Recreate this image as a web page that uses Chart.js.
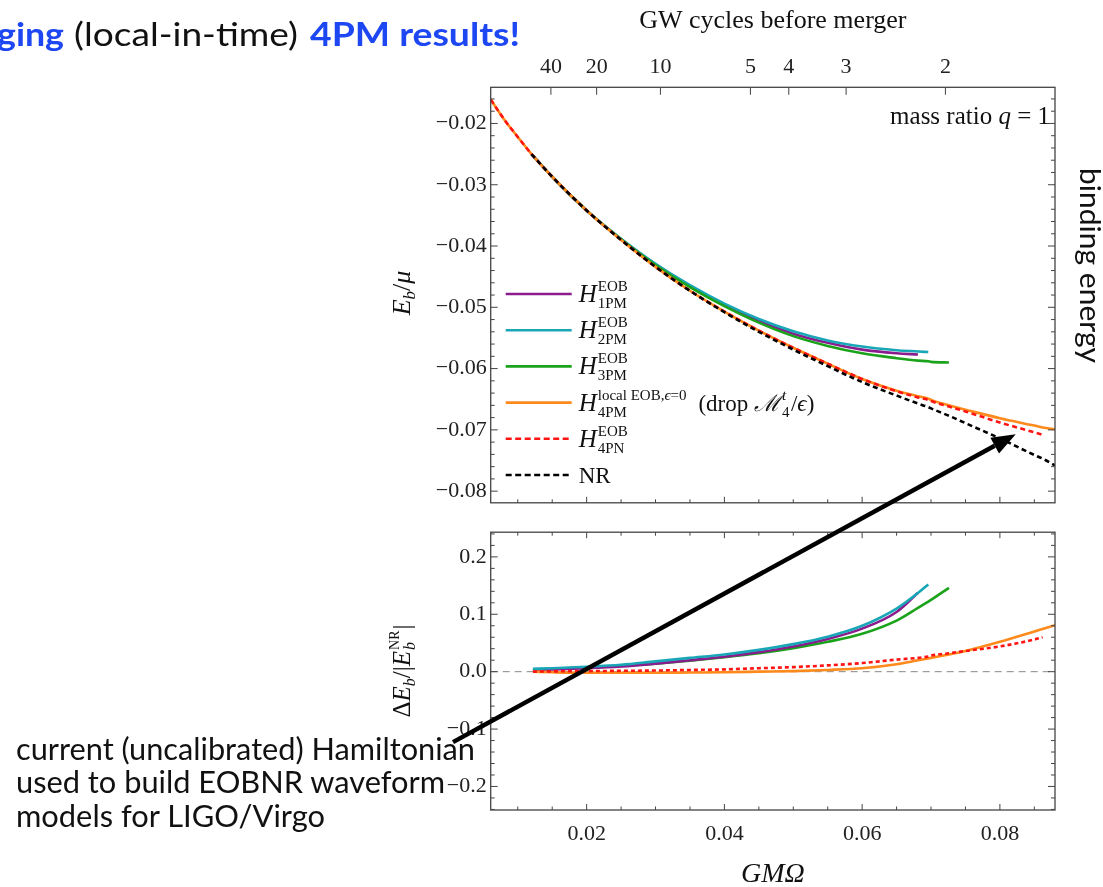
<!DOCTYPE html>
<html>
<head>
<meta charset="utf-8">
<script src="https://cdn.jsdelivr.net/npm/chart.js@4.4.0/dist/chart.umd.min.js"></script>
<style>
  html, body { margin: 0; padding: 0; background: #fff; }
  body { width: 1103px; height: 887px; position: relative; overflow: hidden; }
  #topBox { position: absolute; left: 0; top: 0; width: 1103px; height: 520px; }
  #botBox { position: absolute; left: 0; top: 515px; width: 1103px; height: 372px; }
  #notes { position: absolute; left: 0; top: 0; pointer-events: none; }
</style>
</head>
<body>
<div id="topBox"><canvas id="topChart"></canvas></div>
<div id="botBox"><canvas id="botChart"></canvas></div>
<svg id="notes" width="1103" height="887">
  <text x="-3" y="46" font-family="Lato" font-weight="700" font-size="32" fill="#1d47f2" textLength="67" lengthAdjust="spacingAndGlyphs">ging</text>
  <text x="74" y="46" font-family="Lato" font-size="32" fill="#111" textLength="224" lengthAdjust="spacingAndGlyphs">(local-in-time)</text>
  <text x="310" y="46" font-family="Lato" font-weight="700" font-size="32" fill="#1d47f2" textLength="210" lengthAdjust="spacingAndGlyphs">4PM results!</text>
  <text x="16" y="760" font-family="Lato" font-size="30" fill="#111" textLength="459" lengthAdjust="spacingAndGlyphs">current (uncalibrated) Hamiltonian</text>
  <text x="16" y="793" font-family="Lato" font-size="30" fill="#111" textLength="429" lengthAdjust="spacingAndGlyphs">used to build EOBNR waveform</text>
  <text x="16" y="827" font-family="Lato" font-size="30" fill="#111" textLength="309" lengthAdjust="spacingAndGlyphs">models for LIGO/Virgo</text>
  <text transform="translate(1080,168) rotate(90)" font-family="Lato" font-size="29" fill="#111" textLength="195" lengthAdjust="spacingAndGlyphs">binding energy</text>
  <line id="arrowLine" stroke="#000" stroke-width="4.5" />
  <polygon id="arrowHead" fill="#000" />
</svg>
<script>
// GMΩ sample points, top panel (binding energy E_b/μ)
const topX = [0.00607, 0.008, 0.01, 0.012, 0.015, 0.02, 0.025, 0.03, 0.035, 0.04, 0.045, 0.05,
  0.055, 0.06, 0.065, 0.0681, 0.0696, 0.07, 0.0726, 0.075, 0.08, 0.085, 0.0862, 0.088];
const topPM1 = [null, null, null, -0.0250, -0.0287, -0.0342, -0.0389, -0.0430, -0.0465, -0.0496, -0.0522, -0.0543,
  -0.0558, -0.0569, -0.0575, -0.0577, null, null, null, null, null, null, null, null];
const topPM2 = [null, null, null, -0.0250, -0.0287, -0.0342, -0.0388, -0.0429, -0.0464, -0.0494, -0.0519, -0.0539,
  -0.0554, -0.0564, -0.0570, -0.0572, -0.0573, null, null, null, null, null, null, null];
const topPM3 = [null, null, null, -0.0250, -0.0287, -0.0342, -0.0389, -0.0431, -0.0467, -0.0498, -0.0525, -0.0547,
  -0.0563, -0.0575, -0.0583, -0.0587, -0.0588, -0.0589, -0.0590, null, null, null, null, null];
const topPM4 = [-0.0161, -0.0193, -0.0222, -0.0250, -0.0287, -0.0342, -0.0390, -0.0434, -0.0473, -0.0507, -0.0538, -0.0566,
  -0.0592, -0.0617, -0.0636, -0.0645, -0.0649, -0.0651, -0.0660, -0.0667, -0.0681, -0.0693, -0.0696, -0.0699];
const topPN4 = [-0.0161, -0.0193, -0.0222, -0.0250, -0.0287, -0.0342, -0.0390, -0.0434, -0.0473, -0.0507, -0.0538, -0.0566,
  -0.0592, -0.0617, -0.0637, -0.0647, -0.0651, -0.0653, -0.0662, -0.0670, -0.0688, -0.0704, -0.0708, null];
const topNR = [null, null, null, -0.0250, -0.0287, -0.0342, -0.0390, -0.0434, -0.0473, -0.0508, -0.0540, -0.0569,
  -0.0596, -0.0622, -0.0644, -0.0657, -0.0663, -0.0665, -0.0677, -0.0689, -0.0714, -0.0741, -0.0747, -0.0758];

// bottom panel (relative difference to NR)
const botX = [0.0122, 0.015, 0.02, 0.025, 0.03, 0.035, 0.04, 0.045, 0.05, 0.055, 0.06, 0.065,
  0.0681, 0.0696, 0.07, 0.0726, 0.075, 0.08, 0.085, 0.0862, 0.088];
const botPM1 = [0.003, 0.004, 0.006, 0.009, 0.014, 0.020, 0.026, 0.034, 0.044, 0.057, 0.075, 0.104,
  0.1375, null, null, null, null, null, null, null, null];
const botPM2 = [0.005, 0.006, 0.0085, 0.012, 0.018, 0.024, 0.030, 0.038, 0.048, 0.061, 0.080, 0.110,
  0.137, 0.152, null, null, null, null, null, null, null];
const botPM3 = [0.004, 0.005, 0.007, 0.010, 0.014, 0.019, 0.025, 0.032, 0.041, 0.052, 0.066, 0.089,
  0.111, 0.122, 0.125, 0.146, null, null, null, null, null];
const botPM4 = [0.0, -0.001, -0.002, -0.002, -0.002, -0.0015, -0.001, 0.0, 0.001, 0.003, 0.006, 0.013,
  0.0198, 0.0231, 0.024, 0.030, 0.036, 0.052, 0.070, 0.0744, 0.081];
const botPN4 = [0.0, 0.0005, 0.001, 0.0015, 0.002, 0.003, 0.004, 0.006, 0.008, 0.011, 0.015, 0.021,
  0.024, 0.0265, 0.028, 0.032, 0.036, 0.044, 0.056, 0.060, null];

// axes
const xMin = 0.00607, xMax = 0.088;
const xTicks = [0.02, 0.04, 0.06, 0.08];
const cycleLabels = [40, 20, 10, 5, 4, 3, 2];
const cyclePos = [0.01481, 0.02145, 0.03071, 0.04378, 0.04935, 0.05767, 0.07209];
const topYTicks = [-0.08, -0.07, -0.06, -0.05, -0.04, -0.03, -0.02];
const botYTicks = [-0.2, -0.1, 0.0, 0.1, 0.2];

// arrow annotation, in data coords (tail: bottom panel, head: top panel)
const arrowFrom = [0.0006, -0.1227];
const arrowTo = [0.0823, -0.0707];

const BOT_TOP = 515;
const serif = '"Liberation Serif", "DejaVu Serif", serif';
const minus = s => s.replace('-', '\u2212');

const colors = {
  pm1: '#8a1c8e', pm2: '#19a7b8', pm3: '#1aa31a', pm4: '#ff8a1c', pn4: '#ff1414', nr: '#000'
};

function pts(xs, ys) {
  return xs.map((x, i) => ({ x: x, y: ys[i] })).filter(p => p.y !== null);
}

function line(label, xs, ys, color, dash, order) {
  return {
    label: label, data: pts(xs, ys), borderColor: color, borderWidth: 2.6,
    borderDash: dash || [], pointRadius: 0, cubicInterpolationMode: 'monotone',
    fill: false, order: order
  };
}

function mathText(ctx, x, y, parts, measureOnly) {
  for (const [t, size, it, dy] of parts) {
    ctx.font = (it ? 'italic ' : '') + size + 'px ' + serif;
    if (!measureOnly) ctx.fillText(t, x, y + (dy || 0));
    x += ctx.measureText(t).width;
  }
  return x;
}

// H with stacked superscript / subscript
function hLabel(ctx, x, y, sup, sub) {
  x = mathText(ctx, x, y, [['H', 25, true]]) + 1;
  const x1 = mathText(ctx, x, y - 11, sup);
  const x2 = mathText(ctx, x, y + 6, [[sub, 15, false]]);
  return Math.max(x1, x2);
}

// frame + inward ticks, Mathematica style
function frameTicks(opts) {
  return {
    id: 'frameTicks',
    afterDatasetsDraw(chart) {
      const { ctx, chartArea: a, scales } = chart;
      ctx.save();
      ctx.strokeStyle = '#444';
      ctx.lineWidth = 1.3;
      ctx.strokeRect(a.left, a.top, a.right - a.left, a.bottom - a.top);
      ctx.lineWidth = 1;
      ctx.beginPath();
      opts.xs.forEach(([v, len]) => {
        const px = scales.x.getPixelForValue(v);
        if (opts.bottomX) { ctx.moveTo(px, a.bottom); ctx.lineTo(px, a.bottom - len); }
        if (opts.topX) { ctx.moveTo(px, a.top); ctx.lineTo(px, a.top + len); }
      });
      (opts.topOnly || []).forEach(([v, len]) => {
        const px = scales.x.getPixelForValue(v);
        ctx.moveTo(px, a.top); ctx.lineTo(px, a.top + len);
      });
      opts.ys.forEach(([v, len]) => {
        const py = scales.y.getPixelForValue(v);
        ctx.moveTo(a.left, py); ctx.lineTo(a.left + len, py);
        ctx.moveTo(a.right, py); ctx.lineTo(a.right - len, py);
      });
      ctx.stroke();
      ctx.restore();
    }
  };
}

const xFrame = [];
for (let k = 2; k <= 17; k++) xFrame.push([k * 0.005, k % 4 === 0 ? 6 : 3.5]);
const topYFrame = [];
for (let k = 40; k >= 8; k--) topYFrame.push([-k * 0.002, k % 5 === 0 ? 7 : 4]);
const botYFrame = [];
for (let k = -12; k <= 12; k++) botYFrame.push([k * 0.02, k % 5 === 0 ? 7 : 4]);

const topDecor = {
  id: 'topDecor',
  afterDraw(chart) {
    const { ctx, chartArea: a } = chart;
    ctx.save();
    ctx.fillStyle = '#111';
    ctx.textBaseline = 'alphabetic';

    // legend
    const ds = chart.data.datasets;
    const sups = [
      [['EOB', 15, false]], [['EOB', 15, false]], [['EOB', 15, false]],
      [['local EOB,', 15, false], ['\u03f5', 15, true], ['=0', 15, false]],
      [['EOB', 15, false]]
    ];
    const subs = ['1PM', '2PM', '3PM', '4PM', '4PN'];
    ds.forEach((d, i) => {
      const cy = 294 + i * 36.2;
      ctx.save();
      ctx.strokeStyle = d.borderColor;
      ctx.lineWidth = 2.6;
      ctx.setLineDash(d.borderDash.length ? [6, 3.5] : []);
      ctx.beginPath();
      ctx.moveTo(a.left + 15, cy); ctx.lineTo(a.left + 81, cy);
      ctx.stroke();
      ctx.restore();
      const tx = a.left + 88, by = cy + 8;
      if (i < 5) {
        const end = hLabel(ctx, tx, by, sups[i], subs[i]);
        if (i === 3) {
          const x0 = end + 12;
          let x = mathText(ctx, x0, by, [['(drop ', 23, false], ['\u2133', 23, true]]);
          ctx.font = 'italic 15px ' + serif;
          ctx.fillText('t', x + 1, by - 11);
          ctx.font = '15px ' + serif;
          ctx.fillText('4', x + 1, by + 6);
          x += 10;
          mathText(ctx, x, by, [['/', 23, false], ['\u03f5', 23, true], [')', 23, false]]);
        }
      } else {
        mathText(ctx, tx, by, [['NR', 23, false]]);
      }
    });

    // mass ratio note
    const note = [['mass ratio ', 25, false], ['q', 25, true], [' = 1', 25, false]];
    const nw = mathText(ctx, 0, 0, note, true);
    mathText(ctx, a.right - 5 - nw, 124, note);

    // top axis title
    ctx.font = '26px ' + serif;
    ctx.textAlign = 'center';
    ctx.fillText('GW cycles before merger', (a.left + a.right) / 2, 28);
    ctx.textAlign = 'left';

    // y title E_b/mu
    const yt = [['E', 26, true], ['b', 17, true, 5], ['/', 26, false], ['\u03bc', 26, true]];
    const yw = mathText(ctx, 0, 0, yt, true);
    ctx.translate(410, 293);
    ctx.rotate(-Math.PI / 2);
    mathText(ctx, -yw / 2, 0, yt);
    ctx.restore();
  }
};

const botDecor = {
  id: 'botDecor',
  afterDraw(chart) {
    const { ctx, chartArea: a } = chart;
    ctx.save();
    ctx.fillStyle = '#111';
    // x title
    ctx.font = 'italic 28px ' + serif;
    ctx.textAlign = 'center';
    ctx.fillText('GM\u03a9', (a.left + a.right) / 2, 367);
    ctx.textAlign = 'left';
    // y title  ΔE_b / |E_b^NR|
    const p1 = [['\u0394', 25, false], ['E', 25, true], ['b', 16, true, 5], ['/|', 25, false], ['E', 25, true]];
    const w1 = mathText(ctx, 0, 0, p1, true);
    ctx.font = '14px ' + serif;
    const wNR = ctx.measureText('NR').width;
    const w3 = mathText(ctx, 0, 0, [['|', 25, false]], true);
    const total = w1 + 2 + wNR + w3;
    ctx.translate(410, 156);
    ctx.rotate(-Math.PI / 2);
    let x = mathText(ctx, -total / 2, 0, p1);
    ctx.font = 'italic 16px ' + serif;
    ctx.fillText('b', x + 1, 5);
    ctx.font = '14px ' + serif;
    ctx.fillText('NR', x + 1, -11);
    x += 2 + wNR;
    mathText(ctx, x, 0, [['|', 25, false]]);
    ctx.restore();
  }
};

const tickFont = { family: serif, size: 22 };

const topChart = new Chart(document.getElementById('topChart'), {
  type: 'line',
  data: {
    datasets: [
      line('1PM', topX, topPM1, colors.pm1, null, 5),
      line('2PM', topX, topPM2, colors.pm2, null, 4),
      line('3PM', topX, topPM3, colors.pm3, null, 3),
      line('4PM local', topX, topPM4, colors.pm4, null, 2),
      line('4PN', topX, topPN4, colors.pn4, [5, 3.5], 1),
      line('NR', topX, topNR, colors.nr, [5, 3.5], 0)
    ]
  },
  options: {
    responsive: true,
    maintainAspectRatio: false,
    animation: false,
    layout: { padding: { left: 420, right: 48, top: 0, bottom: 10 } },
    plugins: { legend: { display: false }, tooltip: { enabled: false } },
    scales: {
      x: {
        type: 'linear', position: 'bottom', min: xMin, max: xMax,
        ticks: { display: false }, grid: { display: false }, border: { display: false },
        afterFit: s => { s.height = 0; }
      },
      x2: {
        type: 'linear', position: 'top', min: xMin, max: xMax,
        afterBuildTicks: s => { s.ticks = cyclePos.map(v => ({ value: v })); },
        ticks: { font: tickFont, color: '#222', padding: 7, maxRotation: 0, autoSkip: false,
          callback: (v, i) => cycleLabels[i] },
        grid: { display: false, drawTicks: false }, border: { display: false },
        afterFit: s => { s.height = 87.3; }
      },
      y: {
        type: 'linear', min: -0.0819, max: -0.0141,
        afterBuildTicks: s => { s.ticks = topYTicks.map(v => ({ value: v })); },
        ticks: { font: tickFont, color: '#222', padding: 4, callback: v => minus(v.toFixed(2)) },
        grid: { display: false, drawTicks: false }, border: { display: false },
        afterFit: s => { s.width = 70.7; }
      }
    }
  },
  plugins: [frameTicks({ xs: xFrame, bottomX: true, topX: false,
    topOnly: cyclePos.map(v => [v, 7.5]), ys: topYFrame }), topDecor]
});

const botChart = new Chart(document.getElementById('botChart'), {
  type: 'line',
  data: {
    datasets: [
      {
        label: 'zero', data: [{ x: xMin, y: 0 }, { x: xMax, y: 0 }], borderColor: '#888',
        borderWidth: 1, borderDash: [7, 5], pointRadius: 0, order: 9
      },
      line('1PM', botX, botPM1, colors.pm1, null, 5),
      line('2PM', botX, botPM2, colors.pm2, null, 4),
      line('3PM', botX, botPM3, colors.pm3, null, 6),
      line('4PM local', botX, botPM4, colors.pm4, null, 2),
      line('4PN', botX, botPN4, colors.pn4, [4, 3], 1)
    ]
  },
  options: {
    responsive: true,
    maintainAspectRatio: false,
    animation: false,
    layout: { padding: { left: 420, right: 48, top: 12, bottom: 0 } },
    plugins: { legend: { display: false }, tooltip: { enabled: false } },
    scales: {
      x: {
        type: 'linear', position: 'bottom', min: xMin, max: xMax,
        afterBuildTicks: s => { s.ticks = xTicks.map(v => ({ value: v })); },
        ticks: { font: tickFont, color: '#222', padding: 11, maxRotation: 0,
          callback: v => v.toFixed(2) },
        grid: { display: false, drawTicks: false }, border: { display: false },
        afterFit: s => { s.height = 77; }
      },
      y: {
        type: 'linear', min: -0.241, max: 0.243,
        afterBuildTicks: s => { s.ticks = botYTicks.map(v => ({ value: v })); },
        ticks: { font: tickFont, color: '#222', padding: 4, callback: v => minus(v.toFixed(1)) },
        grid: { display: false, drawTicks: false }, border: { display: false },
        afterFit: s => { s.width = 70.7; }
      }
    }
  },
  plugins: [frameTicks({ xs: xFrame, bottomX: true, topX: true, ys: botYFrame }), botDecor]
});

// arrow from the bottom-left caption up to the NR curve
function placeArrow() {
  const x0 = botChart.scales.x.getPixelForValue(arrowFrom[0]);
  const y0 = BOT_TOP + botChart.scales.y.getPixelForValue(arrowFrom[1]);
  const x1 = topChart.scales.x.getPixelForValue(arrowTo[0]);
  const y1 = topChart.scales.y.getPixelForValue(arrowTo[1]);
  const ang = Math.atan2(y1 - y0, x1 - x0), L = 24, W = 9;
  const bx = x1 - L * Math.cos(ang), by = y1 - L * Math.sin(ang);
  const ln = document.getElementById('arrowLine');
  ln.setAttribute('x1', x0); ln.setAttribute('y1', y0);
  ln.setAttribute('x2', bx); ln.setAttribute('y2', by);
  const sx = W * Math.sin(ang), sy = W * Math.cos(ang);
  document.getElementById('arrowHead').setAttribute('points',
    `${x1},${y1} ${bx + sx},${by - sy} ${bx - sx},${by + sy}`);
}
placeArrow();
</script>
</body>
</html>
